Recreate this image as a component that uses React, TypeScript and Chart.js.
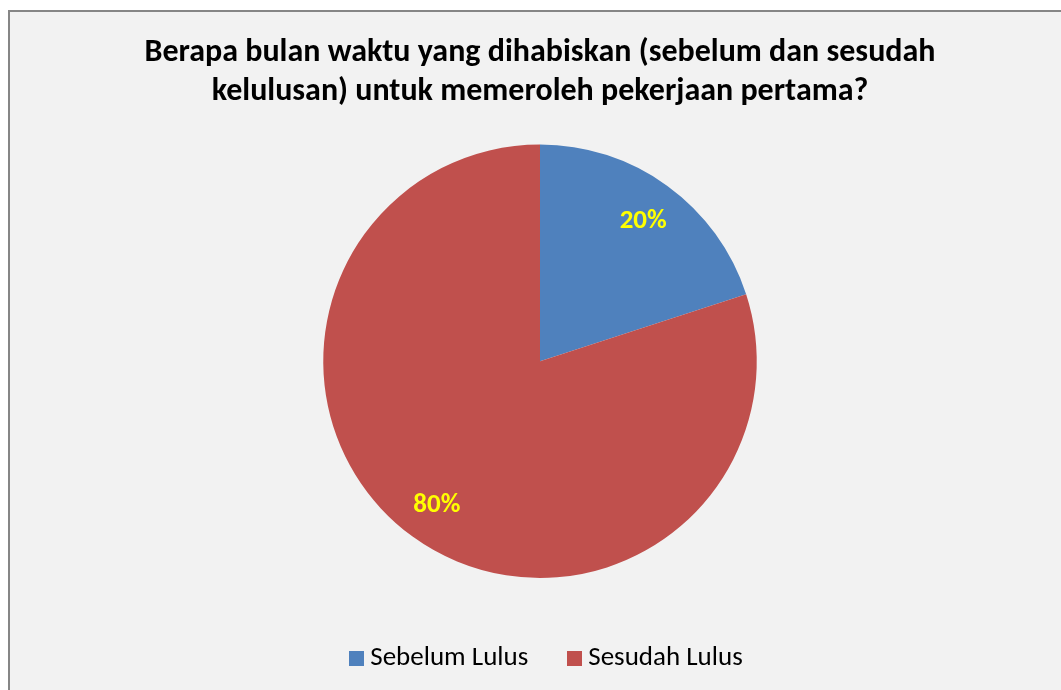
import React, { useEffect, useRef } from "react";
import { Chart, registerables } from "chart.js";

Chart.register(...registerables);

const titleLines = [
  "Berapa bulan waktu yang dihabiskan (sebelum dan sesudah",
  "kelulusan) untuk memeroleh pekerjaan pertama?",
];
const categories = ["Sebelum Lulus", "Sesudah Lulus"];
const values = [20, 80];
const colors = ["#4f81bd", "#c0504d"];

const FONT = "Carlito, Lato, 'Open Sans', sans-serif";

const labelPlugin = {
  id: "sliceLabels",
  afterDatasetsDraw(chart: any) {
    const ctx = chart.ctx;
    const meta = chart.getDatasetMeta(0);
    const total = values.reduce((a, b) => a + b, 0);
    ctx.save();
    ctx.font = `bold 27px ${FONT}`;
    ctx.fillStyle = "#ffff00";
    ctx.textAlign = "center";
    ctx.textBaseline = "alphabetic";
    meta.data.forEach((arc: any, i: number) => {
      const p = arc.getProps(["x", "y", "startAngle", "endAngle", "outerRadius"], true);
      const mid = (p.startAngle + p.endAngle) / 2;
      const r = p.outerRadius * 0.81;
      const x = p.x + Math.cos(mid) * r;
      const y = p.y + Math.sin(mid) * r;
      ctx.fillText(Math.round((values[i] / total) * 100) + "%", x, y + 9);
    });
    ctx.restore();
  },
};

const legendShift = {
  id: "legendShift",
  afterLayout(chart: any) {
    const lg = chart.legend;
    if (!lg) return;
    lg.left += 6;
    lg.right += 6;
  },
};

const legendSquares = {
  id: "legendSquares",
  afterDraw(chart: any) {
    const lg = chart.legend;
    if (!lg || !lg.legendHitBoxes) return;
    const ctx = chart.ctx;
    ctx.save();
    lg.legendHitBoxes.forEach((hb: any, i: number) => {
      ctx.fillStyle = colors[i];
      ctx.fillRect(Math.round(hb.left), Math.round(hb.top + hb.height / 2 - 7.5), 15, 15);
    });
    ctx.restore();
  },
};

export default function App() {
  const ref = useRef<HTMLCanvasElement>(null);
  useEffect(() => {
    if (!ref.current) return;
    const baseGen = (Chart as any).overrides.pie.plugins.legend.labels.generateLabels;
    const chart = new Chart(ref.current, {
      type: "pie",
      data: {
        labels: categories,
        datasets: [
          {
            data: values,
            backgroundColor: colors,
            borderWidth: 0,
          },
        ],
      },
      options: {
        animation: false,
        responsive: false,
        layout: { padding: { left: 9, right: 0, top: 0, bottom: 8 } },
        plugins: {
          title: {
            display: true,
            text: titleLines,
            color: "#000000",
            font: { family: FONT, size: 32, weight: "bold", lineHeight: 39 / 32 },
            padding: { top: 21.5, bottom: 33 },
          },
          legend: {
            position: "bottom",
            title: {
              display: true,
              text: "",
              font: { size: 1, lineHeight: 1 },
              padding: 13.5,
            },
            labels: {
              color: "#000000",
              font: { family: FONT, size: 27 },
              boxWidth: 7.5,
              boxHeight: 15,
              padding: 39,
              generateLabels: (c: any) =>
                baseGen(c).map((l: any) => ({
                  ...l,
                  fillStyle: "rgba(0,0,0,0)",
                  strokeStyle: "rgba(0,0,0,0)",
                  lineWidth: 0,
                })),
            },
          },
          tooltip: { enabled: false },
        },
      },
      plugins: [labelPlugin, legendShift, legendSquares],
    });
    return () => chart.destroy();
  }, []);
  return (
    <div
      style={{
        position: "fixed",
        left: 8,
        top: 10,
        width: 1053,
        height: 680,
        background: "#f2f2f2",
        borderLeft: "2px solid #868686",
        borderTop: "2px solid #868686",
        boxSizing: "border-box",
      }}
    >
      <canvas ref={ref} width={1051} height={678} style={{ display: "block" }} />
    </div>
  );
}
